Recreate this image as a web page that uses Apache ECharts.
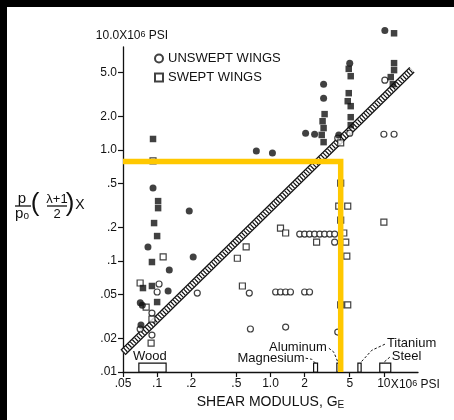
<!DOCTYPE html>
<html>
<head>
<meta charset="utf-8">
<script src="https://cdn.jsdelivr.net/npm/echarts@6/dist/echarts.min.js"></script>
<style>
  html, body { margin: 0; padding: 0; background: #fff; }
  #chart { width: 454px; height: 420px; }
</style>
</head>
<body>
<div id="chart"></div>
<script>
// Shear modulus G_E (10^6 psi) against p/p0 * (lambda+1)/2 (10^6 psi), per wing.
const unsweptOpenG = [0.104, 0.1, 0.226, 0.090, 0.0708, 0.090,
  1.81, 2.0, 2.21, 2.45, 2.72, 3.0, 3.33, 3.68, 3.68,
  0.65, 1.11, 1.225, 1.36, 1.50, 2.0, 2.21, 0.665, 1.36, 3.92,
  5.0, 3.92, 10.2, 10.0, 12.3];
const unsweptOpenP = [0.0621, 0.0526, 0.0515, 0.034, 0.0244, 0.0215,
  0.175, 0.175, 0.175, 0.175, 0.175, 0.175, 0.175, 0.175, 0.148,
  0.0515, 0.0526, 0.0526, 0.0526, 0.0526, 0.0526, 0.0526, 0.0244, 0.0254, 0.0229,
  1.42, 1.28, 4.27, 1.39, 1.39];

const unsweptFilledG = [0.083, 0.092, 0.192, 0.208, 0.128, 0.125, 0.071, 0.074, 0.072,
  0.75, 1.04, 2.04, 2.45, 2.94, 2.94, 4.0, 5.0, 10.2];
const unsweptFilledP = [0.134, 0.455, 0.282, 0.109, 0.083, 0.0537, 0.042, 0.040, 0.0265,
  0.98, 0.94, 1.42, 1.39, 3.93, 2.94, 1.37, 6.08, 12.0];

const sweptOpenG = [0.092, 0.113, 0.0708, 0.080, 0.090, 0.0885,
  1.225, 1.36, 2.55, 4.43, 4.61, 4.71, 4.16, 0.61, 0.51, 0.565,
  4.16, 4.80, 4.16, 4.0, 4.80, 10.0, 4.16];
const sweptOpenP = [0.80, 0.109, 0.0634, 0.0385, 0.030, 0.0182,
  0.198, 0.179, 0.148, 0.179, 0.148, 0.111, 0.234, 0.134, 0.106, 0.0596,
  0.0402, 0.0402, 0.505, 0.313, 0.313, 0.224, 1.16];

const sweptFilledG = [0.092, 0.102, 0.102, 0.094, 0.1, 0.090, 0.075, 0.090, 0.1,
  4.9, 5.1, 4.9, 4.8, 5.1, 5.1, 5.1,
  3.0, 2.88, 2.94, 2.83, 2.94,
  12.3, 12.3, 12.3, 11.5, 12.0];
const sweptFilledP = [1.26, 0.347, 0.30, 0.22, 0.168, 0.098, 0.0571, 0.0596, 0.0427,
  5.4, 4.64, 3.26, 2.76, 2.49, 1.98, 1.68,
  2.11, 1.82, 1.58, 1.37, 1.18,
  11.3, 6.08, 5.26, 4.55, 3.93];

// Design band (hatched strip)
const bandG = [0.05, 17.7];
const bandP = [0.015, 5.3];

// Highlight guide
const guideG = [0.05, 4.16, 4.16];
const guideP = [0.79, 0.79, 0.01];

// Material shear moduli along the G axis
const materialNames = ['Wood', 'Magnesium', 'Aluminum', 'Titanium', 'Steel'];
const materialGLow = [0.069, 2.4, 3.85, 5.9, 9.2];
const materialGHigh = [0.12, 2.6, 4.0, 6.3, 11.5];

// Axis ticks
const xTicks = [0.05, 0.1, 0.2, 0.5, 1, 2, 5, 10];
const xTickLabels = ['.05', '.1', '.2', '.5', '1.0', '2', '5', '10'];
const yTicks = [0.01, 0.02, 0.05, 0.1, 0.2, 0.5, 1, 2, 5];
const yTickLabels = ['.01', '.02', '.05', '.1', '.2', '.5', '1.0', '2.0', '5.0'];

const X_MIN = 0.05, X_MAX = 20, Y_MIN = 0.01, Y_MAX = 8.5;

const lg = Math.log10;
const toPairs = (g, p) => g.map((v, i) => [lg(v), lg(p[i])]);
const FONT = '"Liberation Sans", Arial, sans-serif';
const INK = '#111';

function tickIndex(ticks, v) {
  return ticks.findIndex(t => Math.abs(lg(t) - v) < 1e-6);
}

const chart = echarts.init(document.getElementById('chart'), null, { renderer: 'canvas' });

const openStyle = { color: '#fff', borderColor: INK, borderWidth: 1.2 };
const filledStyle = { color: INK, borderColor: INK, borderWidth: 0 };

const option = {
  animation: false,
  backgroundColor: '#fff',
  grid: { left: 123, right: 36, top: 47, bottom: 48, containLabel: false, outerBoundsMode: 'none' },
  legend: {
    data: ['UNSWEPT WINGS', 'SWEPT WINGS'],
    orient: 'vertical',
    left: 149, top: 47,
    itemWidth: 8, itemHeight: 8, itemGap: 6,
    selectedMode: false,
    textStyle: { fontSize: 13, color: INK, fontFamily: FONT }
  },
  xAxis: {
    type: 'value',
    min: lg(X_MIN), max: lg(X_MAX),
    name: '{a|SHEAR MODULUS, G}{e|E}',
    nameLocation: 'middle',
    nameGap: 20,
    nameTextStyle: {
      rich: {
        a: { fontSize: 14, color: INK, fontFamily: FONT },
        e: { fontSize: 10, color: INK, fontFamily: FONT, verticalAlign: 'bottom', padding: [7, 0, 0, 0] }
      }
    },
    splitLine: { show: false },
    axisLine: { show: true, onZero: false, lineStyle: { color: INK, width: 1.3 } },
    axisTick: { show: true, length: 5, lineStyle: { color: INK, width: 1.2 }, customValues: xTicks.map(lg) },
    axisLabel: {
      margin: 6,
      customValues: xTicks.map(lg),
      fontSize: 12, color: INK, fontFamily: FONT,
      formatter: v => {
        const i = tickIndex(xTicks, v);
        return i < 0 ? '' : xTickLabels[i];
      }
    }
  },
  yAxis: {
    type: 'value',
    min: lg(Y_MIN), max: lg(Y_MAX),
    name: '{a|10.0X10}{s|6}{a| PSI}',
    nameLocation: 'end',
    nameGap: 5,
    nameTextStyle: {
      padding: [0, 0, 0, 18],
      rich: {
        a: { fontSize: 12, color: INK, fontFamily: FONT },
        s: { fontSize: 9, color: INK, fontFamily: FONT, verticalAlign: 'top', lineHeight: 9 }
      }
    },
    splitLine: { show: false },
    axisLine: { show: true, onZero: false, lineStyle: { color: INK, width: 1.3 } },
    axisTick: { show: true, length: 5, lineStyle: { color: INK, width: 1.2 }, customValues: yTicks.map(lg) },
    axisLabel: {
      margin: 6,
      customValues: yTicks.map(lg),
      fontSize: 12, color: INK, fontFamily: FONT,
      formatter: v => {
        const i = tickIndex(yTicks, v);
        return i < 0 ? '' : yTickLabels[i];
      }
    }
  },
  series: [
    {
      type: 'line', data: toPairs(bandG, bandP), symbol: 'none', silent: true, z: 2,
      lineStyle: { color: INK, width: 7.5 }
    },
    {
      type: 'line', data: toPairs(bandG, bandP), symbol: 'none', silent: true, z: 2,
      lineStyle: { color: '#fff', width: 5 }
    },
    {
      type: 'line', data: toPairs(bandG, bandP), symbol: 'none', silent: true, z: 2,
      lineStyle: { color: INK, width: 5, type: [1.2, 1.8] }
    },
    {
      name: 'UNSWEPT WINGS', type: 'scatter', symbol: 'circle', symbolSize: 6,
      clip: false, z: 3, itemStyle: openStyle,
      data: toPairs(unsweptOpenG, unsweptOpenP)
    },
    {
      name: 'SWEPT WINGS', type: 'scatter', symbol: 'rect', symbolSize: 6,
      clip: false, z: 3, itemStyle: openStyle,
      data: toPairs(sweptOpenG, sweptOpenP)
    },
    {
      name: 'Unswept, filled', type: 'scatter', symbol: 'circle', symbolSize: 7,
      clip: false, z: 4, itemStyle: filledStyle,
      data: toPairs(unsweptFilledG, unsweptFilledP)
    },
    {
      name: 'Swept, filled', type: 'scatter', symbol: 'rect', symbolSize: 6.5,
      clip: false, z: 4, itemStyle: filledStyle,
      data: toPairs(sweptFilledG, sweptFilledP)
    },
    {
      type: 'custom', z: 5, silent: true, clip: false,
      data: materialGLow.map((g, i) => [lg(g), lg(materialGHigh[i])]),
      renderItem: (params, api) => {
        const p1 = api.coord([api.value(0), lg(Y_MIN)]);
        const p2 = api.coord([api.value(1), lg(0.012)]);
        return {
          type: 'rect',
          shape: { x: p1[0], y: p2[1], width: p2[0] - p1[0], height: p1[1] - p2[1] },
          style: { fill: '#fff', stroke: INK, lineWidth: 1.2 }
        };
      }
    },
    {
      type: 'line', data: toPairs(guideG, guideP), symbol: 'none', silent: true, z: 10,
      clip: false,
      lineStyle: { color: '#FFC800', width: 5.5, join: 'miter', cap: 'butt' }
    }
  ]
};

chart.setOption(option);

// Material labels, offsets relative to each rectangle's top-left corner
const labelLayout = {
  Wood:      { dx: 11, dy: -7, align: 'center', leader: null },
  Magnesium: { dx: -9, dy: -5, align: 'right', leader: [[-8, -5], [-2, -4], [2, 0]] },
  Aluminum:  { dx: -10, dy: -16, align: 'right', leader: [[-8, -15], [-3, -11], [1, -1]] },
  Titanium:  { dx: 29, dy: -20, align: 'left', leader: [[27, -19], [14, -13], [3, -1]] },
  Steel:     { dx: 12, dy: -7, align: 'left', leader: [[10, -6], [3, 0]] }
};

const graphics = [];
materialNames.forEach((name, i) => {
  const tl = chart.convertToPixel({ gridIndex: 0 }, [lg(materialGLow[i]), lg(0.012)]);
  const lay = labelLayout[name];
  graphics.push({
    type: 'text', x: tl[0] + lay.dx, y: tl[1] + lay.dy, z: 20,
    style: { text: name, fill: INK, font: '13px ' + FONT, align: lay.align, verticalAlign: 'middle' }
  });
  if (lay.leader) {
    graphics.push({
      type: 'polyline', z: 20,
      shape: { points: lay.leader.map(p => [tl[0] + p[0], tl[1] + p[1]]) },
      style: { stroke: INK, lineWidth: 1, lineDash: [2.5, 2], fill: null }
    });
  }
});

// Unit suffix after the "10" tick on the G axis
const tenPx = chart.convertToPixel({ gridIndex: 0 }, [lg(10), lg(Y_MIN)]);
graphics.push({
  type: 'text', x: tenPx[0] + 7, y: tenPx[1] + 13, z: 20,
  style: {
    text: '{a|X10}{s|6}{a| PSI}', align: 'left', verticalAlign: 'middle',
    rich: {
      a: { fontSize: 12, fill: INK, fontFamily: FONT },
      s: { fontSize: 9, fill: INK, fontFamily: FONT, verticalAlign: 'top', lineHeight: 9 }
    }
  }
});

// Vertical axis title: p/p0 ((lambda+1)/2) X
const titleFont = '"Liberation Sans", Arial, sans-serif';
graphics.push(
  { type: 'text', x: 22, y: 199, style: { text: 'p', fill: INK, font: '15px ' + titleFont, align: 'center', verticalAlign: 'middle' } },
  { type: 'line', shape: { x1: 15, y1: 206, x2: 31, y2: 206 }, style: { stroke: INK, lineWidth: 1.3 } },
  { type: 'text', x: 22, y: 214, style: {
      text: '{a|p}{s|o}', align: 'center', verticalAlign: 'middle',
      rich: { a: { fontSize: 15, fill: INK, fontFamily: titleFont }, s: { fontSize: 10, fill: INK, fontFamily: titleFont, verticalAlign: 'bottom' } }
  } },
  { type: 'text', x: 35, y: 204, style: { text: '(', fill: INK, font: '26px ' + titleFont, align: 'center', verticalAlign: 'middle' } },
  { type: 'text', x: 57, y: 199, style: { text: 'λ+1', fill: INK, font: '13px ' + titleFont, align: 'center', verticalAlign: 'middle' } },
  { type: 'line', shape: { x1: 47, y1: 206, x2: 67, y2: 206 }, style: { stroke: INK, lineWidth: 1.3 } },
  { type: 'text', x: 57, y: 214, style: { text: '2', fill: INK, font: '13px ' + titleFont, align: 'center', verticalAlign: 'middle' } },
  { type: 'text', x: 70, y: 204, style: { text: ')', fill: INK, font: '26px ' + titleFont, align: 'center', verticalAlign: 'middle' } },
  { type: 'text', x: 80, y: 205, style: { text: 'X', fill: INK, font: '14px ' + titleFont, align: 'center', verticalAlign: 'middle' } }
);

// Dark frame strips on the top and left edges
graphics.push(
  { type: 'rect', shape: { x: 0, y: 0, width: 454, height: 7 }, style: { fill: '#000' }, z: 30 },
  { type: 'rect', shape: { x: 0, y: 0, width: 7, height: 420 }, style: { fill: '#000' }, z: 30 }
);

chart.setOption({ graphic: graphics });
</script>
</body>
</html>
